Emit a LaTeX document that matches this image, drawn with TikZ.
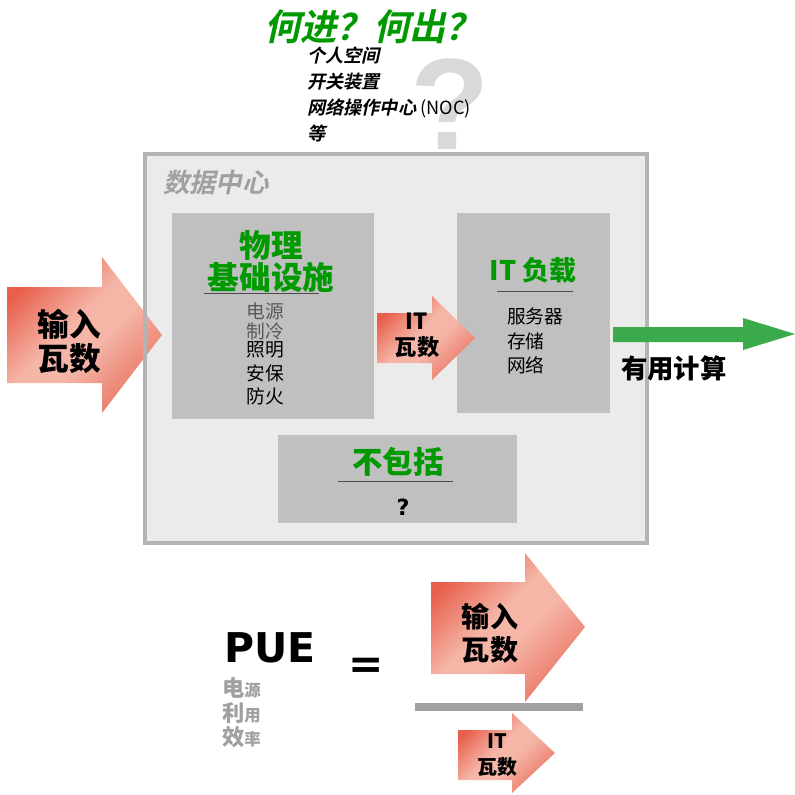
\documentclass[tikz,border=0pt]{standalone}
\usepackage{fontspec}
\setmainfont{Liberation Sans}
\newfontfamily\cjk{Noto Sans CJK SC}
\newfontfamily\cjkslant{Noto Sans CJK SC Bold}[FakeSlant=0.22]
\newfontfamily\heavy{DejaVu Sans}
\usetikzlibrary{positioning}
\usepackage{xcolor}

\definecolor{dcgreen}{RGB}{0,153,0}
\definecolor{flowgreen}{RGB}{58,170,74}
\definecolor{dcfill}{RGB}{235,235,235}
\definecolor{dcedge}{RGB}{180,180,180}
\definecolor{boxfill}{RGB}{192,192,192}
\definecolor{boxedge}{RGB}{240,236,224}
\definecolor{arrowdark}{RGB}{232,96,76}
\definecolor{arrowlight}{RGB}{245,182,168}
\definecolor{arrowmid}{RGB}{234,118,100}
\definecolor{qgray}{RGB}{217,217,217}
\definecolor{pegray}{RGB}{160,160,160}

\pgfdeclareverticalshading{arrowshade}{100bp}{color(0bp)=(arrowmid); color(25bp)=(arrowmid);
  color(45bp)=(arrowlight); color(55bp)=(arrowlight); color(75bp)=(arrowdark); color(100bp)=(arrowdark)}

\tikzset{
  fatarrow/.style={shade, shading=arrowshade, shading angle=45},
  subbox/.style={fill=boxfill, draw=boxedge, line width=0.8pt,
                 anchor=north west, inner sep=0pt},
  headline/.style={text=dcgreen, inner sep=0pt},
  itemtext/.style={font=\cjk\fontsize{16}{18}\selectfont, inner sep=0pt,
                   text height=13pt, text depth=3pt},
  asktext/.style={font=\cjkslant\fontsize{15.5}{17}\selectfont,
                  inner sep=0pt, text height=12.5pt, text depth=3pt},
  arrowtext/.style={align=center, inner sep=0pt},
  underrule/.style={draw=black!70, line width=0.8pt}
}

\begin{document}
\begin{tikzpicture}[x=0.03cm, y=-0.03cm]
    \useasboundingbox (0,0) rectangle (795,794);

    % the big question mark sits behind the box
    \node[anchor=base, text=qgray, inner sep=0pt,
          font=\bfseries\fontsize{111}{111}\selectfont
          ] (bigq) at (450,150) {?};

    % data centre
    \node[fill=dcfill, inner sep=0pt,
          minimum width=15.03cm, minimum height=11.67cm,
          anchor=north west
          ] (dc) at (145,154) {};
    \path[fatarrow] (7,287) -- (102,287) -- (102,257) -- (162,335)
        -- (102,413) -- (102,383) -- (7,383) -- cycle;
    \draw[draw=dcedge, line width=0.12cm] (dc.north west) rectangle (dc.south east);

    \node[subbox, minimum width=6.09cm, minimum height=6.21cm] (infra) at (171,212) {};
    \node[subbox, minimum width=4.62cm, minimum height=6.03cm] (itload) at (456,212) {};
    \node[subbox, minimum width=7.2cm, minimum height=2.67cm] (excl) at (277,434) {};

    \path[fatarrow] (377,313) -- (432,313) -- (432,296) -- (475,338)
        -- (432,380) -- (432,363) -- (377,363) -- cycle;
    \fill[flowgreen] (613,327) -- (743,327) -- (743,318) -- (795,334)
        -- (743,350) -- (743,342) -- (613,342) -- cycle;

    % texts above the box
    \node[headline, anchor=west,
          font=\cjkslant\fontsize{31}{33}\selectfont
          ] (inout) at (264,27) {何进？何出？};
    \node[asktext, anchor=west] (ask1) at (307,57) {个人空间};
    \node[asktext, below right=6.4pt and 0pt of ask1.south west] (ask2) {开关装置};
    \node[asktext, below right=6.4pt and 0pt of ask2.south west] (ask3) {网络操作中心 {\cjk(NOC)}};
    \node[asktext, below right=6.4pt and 0pt of ask3.south west] (ask4) {等};

    \node[anchor=west, inner sep=0pt, text=pegray,
          font=\cjkslant\fontsize{22.5}{24}\selectfont
          ] (dctitle) at (163,183) {数据中心};

    % physical infrastructure
    \node[headline, font=\cjk\bfseries\fontsize{27}{29}\selectfont] (infra1) at (271,245) {物理};
    \node[headline, font=\cjk\bfseries\fontsize{27}{29}\selectfont] (infra2) at (271,277) {基础设施};
    \draw[underrule] (204,293) -- (319,293);
    \node[itemtext, text=black!65] (power) at (265,313) {电源};
    \node[itemtext, text=black!65] (cool) at (265,333) {制冷};
    \node[itemtext] (light) at (265,351) {照明};
    \node[itemtext, below=3.6pt of light] (secur) {安保};
    \node[itemtext, below=3.6pt of secur] (fire) {防火};

    % IT load
    \node[headline, font=\cjk\bfseries\fontsize{23}{25}\selectfont] (ittitle) at (533,270) {IT 负载};
    \draw[underrule] (497,291) -- (573,291);
    \node[itemtext, anchor=west] (server) at (507,318) {服务器};
    \node[itemtext, below right=4.4pt and 0pt of server.south west] (store) {存储};
    \node[itemtext, below right=4.4pt and 0pt of store.south west] (net) {网络};

    % not included
    \node[headline, font=\cjk\bfseries\fontsize{26}{28}\selectfont] (excltitle) at (398,462) {不包括};
    \draw[underrule] (338,481) -- (453,481);
    \node[inner sep=0pt, font=\heavy\bfseries\fontsize{19}{21}\selectfont] (exclq) at (403,507) {?};

    % arrow labels
    \node[arrowtext, font=\cjk\bfseries\fontsize{27}{29}\selectfont] (inwatts) at (69,341) {输入\\瓦数};
    \node[arrowtext, font=\cjk\bfseries\fontsize{19}{22}\selectfont] (itwatts) at (417,335) {IT\\瓦数};
    \node[anchor=west, inner sep=0pt,
          font=\cjk\bfseries\fontsize{22.5}{24}\selectfont
          ] (useful) at (621,368) {有用计算};

    % PUE formula
    \node[inner sep=0pt, font=\heavy\bfseries\fontsize{35}{38}\selectfont] (pue) at (270,648) {PUE};
    \node[anchor=west, inner sep=0pt, text=pegray, font=\cjk\bfseries\fontsize{19}{21}\selectfont]
        (pe1) at (222,688) {电{\fontsize{14}{16}\selectfont 源}};
    \node[anchor=west, inner sep=0pt, text=pegray, font=\cjk\bfseries\fontsize{19}{21}\selectfont]
        (pe2) at (222,713) {利{\fontsize{14}{16}\selectfont 用}};
    \node[anchor=west, inner sep=0pt, text=pegray, font=\cjk\bfseries\fontsize{19}{21}\selectfont]
        (pe3) at (222,737) {效{\fontsize{14}{16}\selectfont 率}};
    \node[inner sep=0pt, font=\heavy\bfseries\fontsize{36}{40}\selectfont] (equals) at (366,668) {=};

    \path[fatarrow] (431,582) -- (525,582) -- (525,553) -- (585,627)
        -- (525,702) -- (525,674) -- (431,674) -- cycle;
    \node[arrowtext, font=\cjk\bfseries\fontsize{24}{28}\selectfont] (numwatts) at (490,633) {输入\\瓦数};
    \node[fill=pegray, inner sep=0pt, minimum width=5.04cm, minimum height=0.24cm] (fracbar) at (499,707) {};
    \path[fatarrow] (458,730) -- (512,730) -- (512,713) -- (555,753)
        -- (512,793) -- (512,780) -- (458,780) -- cycle;
    \node[arrowtext, font=\cjk\bfseries\fontsize{17}{22}\selectfont] (denwatts) at (497,755) {IT\\瓦数};
\end{tikzpicture}
\end{document}
